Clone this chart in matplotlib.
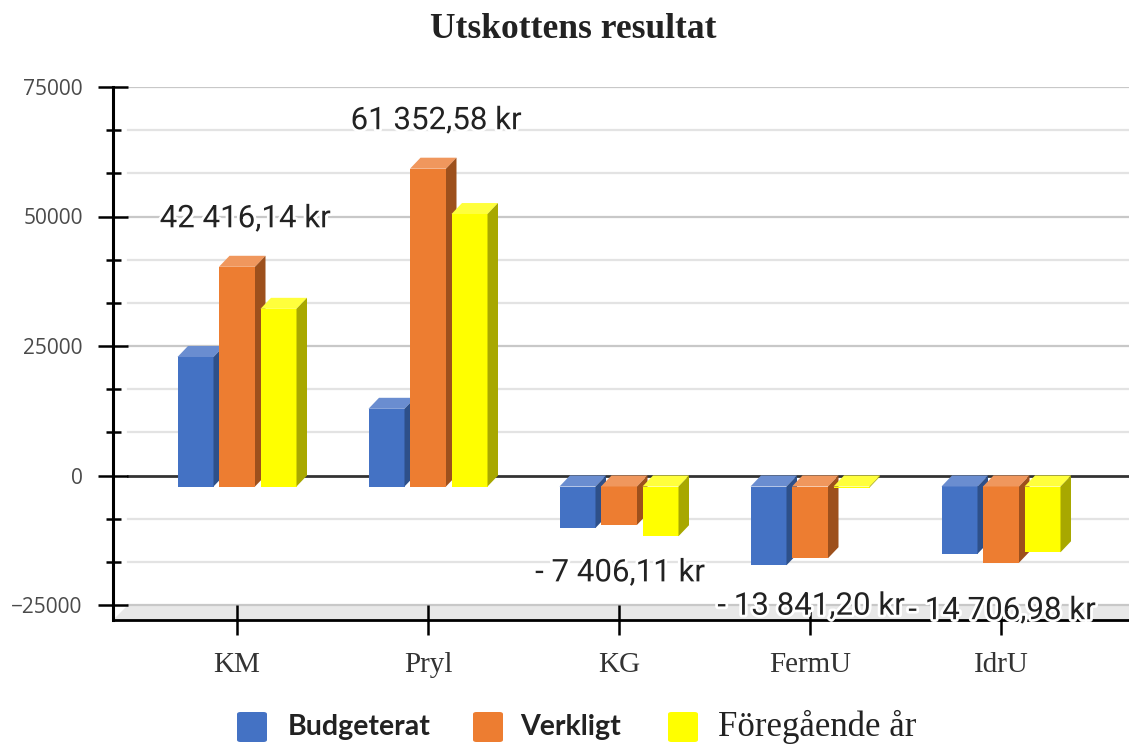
import numpy as np
import matplotlib
matplotlib.use('Agg')
import matplotlib.pyplot as plt
from matplotlib.patches import Polygon, Rectangle, FancyBboxPatch
from matplotlib.ticker import FixedLocator
import matplotlib.patheffects as pe

# data
categories = ['KM', 'Pryl', 'KG', 'FermU', 'IdrU']
series = ['Budgeterat', 'Verkligt', 'Föregående år']
budgeterat = [25000, 15000, -8000, -15200, -13000]
verkligt = [42416.14, 61352.58, -7406.11, -13841.20, -14706.98]
foregaende = [34300, 52600, -9600, -200, -12700]
value_labels = ['42 416,14 kr', '61 352,58 kr', '- 7 406,11 kr', '- 13 841,20 kr', '- 14 706,98 kr']
major_ticks = [-25000, 0, 25000, 50000, 75000]

# colours: front, top, side
colors = [('#4472c4', '#6a8dd0', '#2e5089'),
          ('#ed7d31', '#f0975d', '#9d501c'),
          ('#ffff00', '#ffff3c', '#a8a800')]

W, H = 1129, 744
fig = plt.figure(figsize=(W / 100, H / 100), dpi=100)
ax = fig.add_axes([113 / W, 1 - 620 / H, (W - 113) / W, (620 - 87) / H])

px_x = 191.0            # pixels per category
px_y = 518.0 / 100000   # pixels per unit
xlo, xhi = -(237 - 113) / px_x, (W - 237) / px_x
ylo, yhi = -25000 - 15 / px_y, 75000
ax.set_xlim(xlo, xhi)
ax.set_ylim(ylo, yhi)

# 3d depth and bar geometry
dx = 10.5 / px_x
dy = 11 / px_y
w = 36 / px_x
step = 41.5 / px_x
wall = 15 / px_x

# floor
ax.add_patch(Polygon([(xlo, ylo), (xlo + wall, -25000), (xhi, -25000), (xhi, ylo)],
                     closed=True, facecolor='#e8e8e8', edgecolor='none', zorder=0))

# grid
minor = [v for v in np.arange(-25000, 75001, 25000 / 3) if round(v) % 25000 != 0]
for v in minor:
    ax.plot([xlo + wall, xhi], [v, v], color='#e3e3e3', lw=1.6, zorder=0.5)
for v in major_ticks:
    if v == 0:
        ax.plot([xlo + wall, xhi], [0, 0], color='#333333', lw=2.0, zorder=0.6)
    else:
        ax.plot([xlo + wall, xhi], [v, v], color='#c8c8c8', lw=1.6, zorder=0.6)

data = [budgeterat, verkligt, foregaende]
z = 2
for c in range(len(categories)):
    for k, vals in enumerate(data):
        v = vals[c]
        front, top, side = colors[k]
        x0 = c + (k - 1) * step - w / 2
        x1 = x0 + w
        yb = min(0, v) - dy
        yt = max(0, v) - dy
        ax.add_patch(Rectangle((x0, yb), w, yt - yb, facecolor=front, edgecolor='none', zorder=z))
        ax.add_patch(Polygon([(x0, yt), (x1, yt), (x1 + dx, yt + dy), (x0 + dx, yt + dy)],
                             closed=True, facecolor=top, edgecolor='none', zorder=z))
        ax.add_patch(Polygon([(x1, yb), (x1, yt), (x1 + dx, yt + dy), (x1 + dx, yb + dy)],
                             closed=True, facecolor=side, edgecolor='none', zorder=z))
        z += 1

# value labels for Verkligt
halo = [pe.withStroke(linewidth=4, foreground='white')]
for i, v in enumerate(verkligt):
    if v >= 0:
        ax.text(i + 8 / px_x, v + 37 / px_y, value_labels[i], ha='center', va='center',
                fontsize=22.5, family='Roboto', color='#222222', zorder=50, path_effects=halo)
    else:
        ax.text(i + 1 / px_x, v - 59 / px_y, value_labels[i], ha='center', va='center',
                fontsize=22.5, family='Roboto', color='#222222', zorder=50, path_effects=halo,
                clip_on=False)

# axes styling
for s in ['top', 'right']:
    ax.spines[s].set_visible(False)
ax.spines['left'].set_linewidth(2.2)
ax.spines['bottom'].set_linewidth(2.0)
ax.spines['left'].set_bounds(ylo, yhi)
ax.set_facecolor('white')

ax.yaxis.set_major_locator(FixedLocator(major_ticks))
ax.yaxis.set_minor_locator(FixedLocator(minor))
ax.tick_params(axis='y', which='major', direction='inout', length=21.6, width=1.8,
               pad=11, labelsize=15, labelcolor='#4a4a4a')
ax.tick_params(axis='y', which='minor', direction='inout', length=10.8, width=1.8)
ax.set_yticklabels([f'{t:d}'.replace('-', '\u2212') for t in major_ticks], family='Open Sans')

ax.set_xticks(range(len(categories)))
ax.set_xticklabels(categories, family='Liberation Serif')
ax.tick_params(axis='x', direction='inout', length=22.3, width=1.8, pad=12,
               labelsize=21, labelcolor='#333333')

# title
fig.text(573 / W, 1 - 30 / H, 'Utskottens resultat', ha='center', va='center',
         family='Liberation Serif', fontweight='bold', fontsize=25.5, color='#222222')

# legend
leg_sq = [237, 473, 668]
leg_tx = [288, 520, 718]
leg_fonts = [('Lato', 'bold', 20.5), ('Lato', 'bold', 20.5), ('Liberation Serif', 'normal', 25)]
for k, name in enumerate(series):
    fig.add_artist(FancyBboxPatch((leg_sq[k] / W, 1 - 742 / H), 30 / W, 30 / H,
                                  boxstyle='round,pad=0,rounding_size=0.003',
                                  transform=fig.transFigure, facecolor=colors[k][0],
                                  edgecolor='none'))
    fam, wt, fs = leg_fonts[k]
    fig.text(leg_tx[k] / W, 1 - 727 / H, name, ha='left', va='center', family=fam,
             fontweight=wt, fontsize=fs, color='#222222')

fig.savefig('out.png', dpi=100)
